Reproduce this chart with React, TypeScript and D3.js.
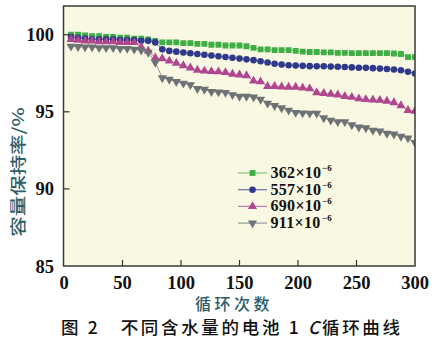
import React from 'react';
import * as d3 from 'd3';

const cycles = [6, 12, 18, 24, 30, 36, 42, 48, 54, 60, 66, 72, 78, 84, 90, 96, 102, 108, 114, 120, 126, 132, 138, 144, 150, 156, 162, 168, 174, 180, 186, 192, 198, 204, 210, 216, 222, 228, 234, 240, 246, 252, 258, 264, 270, 276, 282, 288, 294, 300];

const s362 = [100.0, 100.0, 99.95, 99.9, 99.9, 99.85, 99.85, 99.8, 99.8, 99.75, 99.75, 99.7, 99.6, 99.5, 99.5, 99.5, 99.45, 99.45, 99.4, 99.4, 99.35, 99.35, 99.3, 99.3, 99.3, 99.25, 99.15, 99.05, 99.05, 99.0, 99.0, 99.0, 98.95, 98.9, 98.88, 98.88, 98.85, 98.85, 98.82, 98.82, 98.8, 98.8, 98.8, 98.8, 98.8, 98.8, 98.78, 98.75, 98.55, 98.55];
const s557 = [99.85, 99.8, 99.75, 99.7, 99.7, 99.7, 99.7, 99.65, 99.65, 99.65, 99.6, 99.6, 99.5, 99.05, 98.95, 98.9, 98.85, 98.8, 98.75, 98.7, 98.65, 98.6, 98.55, 98.5, 98.45, 98.4, 98.35, 98.28, 98.2, 98.12, 98.06, 98.02, 98.0, 97.98, 97.96, 97.95, 97.95, 97.93, 97.92, 97.9, 97.88, 97.86, 97.85, 97.83, 97.8, 97.78, 97.74, 97.7, 97.6, 97.48];
const s690 = [99.7, 99.65, 99.6, 99.6, 99.55, 99.55, 99.55, 99.5, 99.5, 99.5, 99.2, 98.95, 98.5, 98.45, 98.3, 98.15, 98.0, 97.85, 97.7, 97.65, 97.62, 97.6, 97.55, 97.45, 97.4, 97.35, 97.0, 96.95, 96.65, 96.65, 96.62, 96.6, 96.6, 96.55, 96.5, 96.25, 96.2, 96.15, 96.1, 96.0, 95.95, 95.85, 95.8, 95.78, 95.75, 95.7, 95.6, 95.4, 95.1, 95.05];
const s911 = [99.25, 99.22, 99.2, 99.2, 99.15, 99.15, 99.15, 99.1, 99.1, 99.05, 99.0, 98.85, 98.2, 97.2, 97.1, 96.95, 96.85, 96.75, 96.5, 96.45, 96.3, 96.28, 96.25, 96.1, 96.0, 96.0, 95.95, 95.8, 95.55, 95.4, 95.25, 95.1, 94.95, 94.92, 94.9, 94.9, 94.6, 94.45, 94.35, 94.35, 94.15, 94.0, 93.95, 93.8, 93.75, 93.6, 93.55, 93.4, 93.3, 93.0];

const seriesNames = ['362', '557', '690', '911'];
const xTicks = [0, 50, 100, 150, 200, 250, 300];
const yTicks = [85, 90, 95, 100];

const seriesData = [s362, s557, s690, s911];
const markerColors = ['#3fae45', '#2f3989', '#b0468f', '#6e7274'];
const lineColors = ['#7cc67c', '#6a70ad', '#c478ae', '#95989a'];
const shapes = [d3.symbolSquare, d3.symbolCircle, d3.symbolTriangle, d3.symbolTriangle];
const sizes = [34, 34, 36, 36];
const rotations = [0, 0, 0, 180];

const L = 63.5, R = 415, T = 6, B = 266;
const x = d3.scaleLinear().domain([0, 300]).range([64, 415]);
const y = d3.scaleLinear().domain([85, 100]).range([266, 34.7]);

const serif = 'Liberation Serif, Times New Roman, serif';
const cjk = 'Noto Sans CJK SC, Noto Sans, sans-serif';
const labelColor = '#2f5d6a';

export default function App() {
  const line = d3.line<number>().x((_, i) => x(cycles[i])).y((v) => y(v));
  return (
    <svg width={437} height={341} style={{ position: 'absolute', left: 0, top: 0, background: '#fff' }}>
      <defs>
        <clipPath id="plotclip">
          <rect x={L} y={T} width={R - L} height={B - T} />
        </clipPath>
      </defs>
      <rect x={L} y={T} width={R - L} height={B - T} fill="#f9f8e2" />
      <g clipPath="url(#plotclip)">
        {seriesData.map((s, k) => (
          <path key={'l' + k} d={line(s) || ''} fill="none" stroke={lineColors[k]} strokeWidth={1} />
        ))}
        {seriesData.map((s, k) => (
          <g key={'m' + k}>
            {s.map((v, i) => (
              <path
                key={i}
                d={d3.symbol(shapes[k], sizes[k])() || ''}
                transform={`translate(${x(cycles[i])},${y(v)}) rotate(${rotations[k]})`}
                fill={markerColors[k]}
              />
            ))}
          </g>
        ))}
      </g>
      {xTicks.slice(1, -1).map((t) => (
        <line key={'xt' + t} x1={x(t)} x2={x(t)} y1={B} y2={B - 6} stroke="#333" strokeWidth={1.2} />
      ))}
      {yTicks.slice(1).map((t) => (
        <line key={'yt' + t} x1={L} x2={L + 6} y1={y(t)} y2={y(t)} stroke="#333" strokeWidth={1.2} />
      ))}
      <rect x={L} y={T} width={R - L} height={B - T} fill="none" stroke="#3a3a3a" strokeWidth={1.5} />
      {xTicks.map((t) => (
        <text key={'xl' + t} x={x(t)} y={288.5} textAnchor="middle" fontFamily={serif} fontWeight="bold" fontSize={18.5} fill="#111">
          {t}
        </text>
      ))}
      {yTicks.map((t) => (
        <text key={'yl' + t} x={54} y={y(t) + 6.5} textAnchor="end" fontFamily={serif} fontWeight="bold" fontSize={18.5} fill="#111">
          {t}
        </text>
      ))}
      {seriesNames.map((n, k) => {
        const ly = 173 + k * 16.7;
        return (
          <g key={'lg' + k}>
            <line x1={238} x2={267} y1={ly} y2={ly} stroke={lineColors[k]} strokeWidth={1.2} />
            <path d={d3.symbol(shapes[k], sizes[k])() || ''} transform={`translate(252.5,${ly}) rotate(${rotations[k]})`} fill={markerColors[k]} />
            <text x={270.5} y={ly + 5} fontFamily={serif} fontWeight="bold" fontSize={16} letterSpacing={0.3} fill="#111">
              {n}×10
            </text>
            <text x={322} y={ly - 2} fontFamily={serif} fontWeight="bold" fontSize={9} fill="#111">
              −6
            </text>
          </g>
        );
      })}
      <text
        transform="translate(24,172) rotate(-90) scale(1.28,1)"
        textAnchor="middle"
        fontFamily={cjk}
        fontSize={16}
        fontWeight={500}
        fill={labelColor}
      >
        容量保持率/%
      </text>
      <text x={234} y={310} textAnchor="middle" fontFamily={cjk} fontSize={16} fontWeight={500} letterSpacing={3.5} fill={labelColor}>
        循环次数
      </text>
      <text x={61} y={334} fontFamily={cjk} fontSize={17.5} fontWeight={500} fill="#111" textLength={339} lengthAdjust="spacing">
        图 2　不同含水量的电池 1 <tspan fontStyle="italic">C</tspan>循环曲线
      </text>
    </svg>
  );
}
